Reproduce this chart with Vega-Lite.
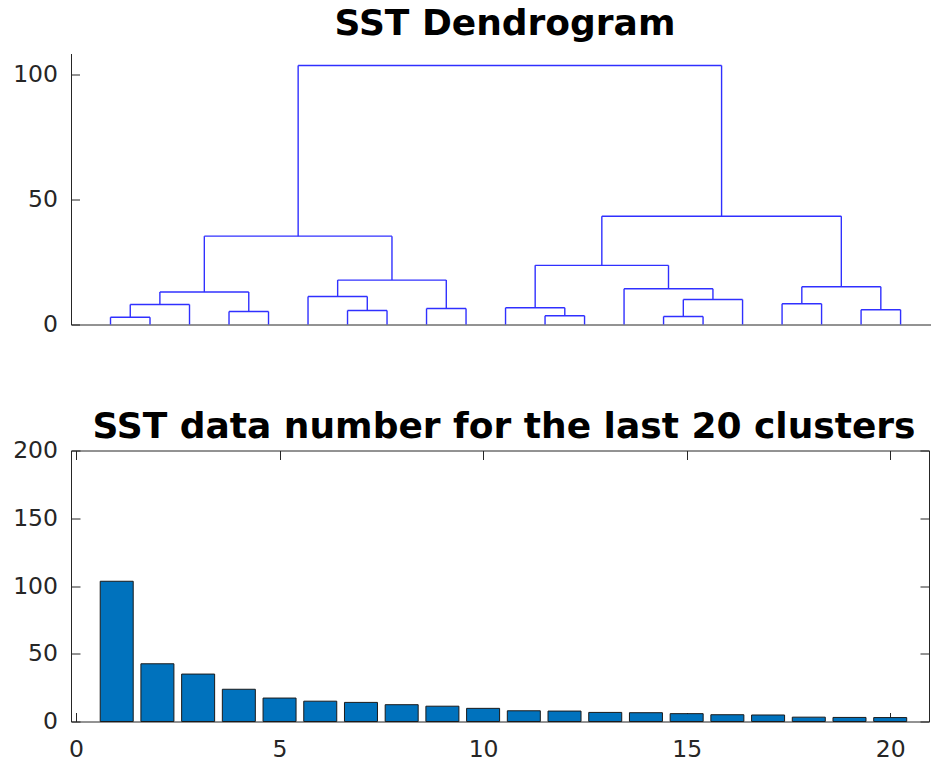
{
  "$schema": "https://vega.github.io/schema/vega-lite/v6.json",
  "padding": {"left": 12, "top": 5.5, "right": 0, "bottom": 0},
  "background": "white",
  "config": {
    "font": "DejaVu Sans",
    "axis": {"labelFont": "DejaVu Sans", "labelFontSize": 23.5, "labelColor": "#262626", "domainColor": "#262626", "tickColor": "#262626", "grid": false, "domainWidth": 1, "tickWidth": 1},
    "title": {"font": "DejaVu Sans", "fontSize": 36, "fontWeight": "bold", "color": "#000000", "anchor": "middle", "baseline": "alphabetic"},
    "view": {"stroke": null}
  },
  "spacing": 72,
  "vconcat": [
    {
      "width": 860,
      "height": 271,
      "title": {"text": "SST Dendrogram", "offset": 10.5, "dx": 4},
      "data": {"values": [
        {"xl": 1, "xr": 2, "hl": 0, "hr": 0, "h": 2.9},
        {"xl": 1.5, "xr": 3, "hl": 2.9, "hr": 0, "h": 8.0},
        {"xl": 4, "xr": 5, "hl": 0, "hr": 0, "h": 5.2},
        {"xl": 2.25, "xr": 4.5, "hl": 8.0, "hr": 5.2, "h": 13.0},
        {"xl": 7, "xr": 8, "hl": 0, "hr": 0, "h": 5.6},
        {"xl": 6, "xr": 7.5, "hl": 0, "hr": 5.6, "h": 11.2},
        {"xl": 9, "xr": 10, "hl": 0, "hr": 0, "h": 6.4},
        {"xl": 6.75, "xr": 9.5, "hl": 11.2, "hr": 6.4, "h": 17.8},
        {"xl": 3.375, "xr": 8.125, "hl": 13.0, "hr": 17.8, "h": 35.4},
        {"xl": 12, "xr": 13, "hl": 0, "hr": 0, "h": 3.5},
        {"xl": 11, "xr": 12.5, "hl": 0, "hr": 3.5, "h": 6.7},
        {"xl": 15, "xr": 16, "hl": 0, "hr": 0, "h": 3.2},
        {"xl": 15.5, "xr": 17, "hl": 3.2, "hr": 0, "h": 10.0},
        {"xl": 14, "xr": 16.25, "hl": 0, "hr": 10.0, "h": 14.3},
        {"xl": 11.75, "xr": 15.125, "hl": 6.7, "hr": 14.3, "h": 23.7},
        {"xl": 18, "xr": 19, "hl": 0, "hr": 0, "h": 8.3},
        {"xl": 20, "xr": 21, "hl": 0, "hr": 0, "h": 5.9},
        {"xl": 18.5, "xr": 20.5, "hl": 8.3, "hr": 5.9, "h": 15.1},
        {"xl": 13.4375, "xr": 19.5, "hl": 23.7, "hr": 15.1, "h": 43.4},
        {"xl": 5.75, "xr": 16.46875, "hl": 35.4, "hr": 43.4, "h": 103.8}
      ]},
      "layer": [
        {
          "mark": {"type": "rule", "color": "#3030ff", "strokeWidth": 1.4},
          "encoding": {
            "x": {"field": "xl", "type": "quantitative", "scale": {"domain": [0, 21.77], "nice": false, "zero": false}, "axis": {"ticks": false, "labels": false, "domain": true, "title": null}},
            "y": {"field": "hl", "type": "quantitative", "scale": {"domain": [0, 108.6], "nice": false}, "axis": {"values": [0, 50, 100], "tickSize": -8.5, "labelPadding": 22, "title": null}},
            "y2": {"field": "h"}
          }
        },
        {
          "mark": {"type": "rule", "color": "#3030ff", "strokeWidth": 1.4},
          "encoding": {
            "x": {"field": "xr", "type": "quantitative", "axis": {"title": null}},
            "y": {"field": "hr", "type": "quantitative", "axis": {"title": null}},
            "y2": {"field": "h"}
          }
        },
        {
          "mark": {"type": "rule", "color": "#3030ff", "strokeWidth": 1.4},
          "encoding": {
            "x": {"field": "xl", "type": "quantitative", "axis": {"title": null}},
            "x2": {"field": "xr"},
            "y": {"field": "h", "type": "quantitative", "axis": {"title": null}}
          }
        }
      ]
    },
    {
      "width": 858,
      "height": 271,
      "title": {"text": "SST data number for the last 20 clusters", "offset": -7, "dx": 4},
      "data": {"values": [
        {"cluster": 1, "count": 103.5},
        {"cluster": 2, "count": 42.6},
        {"cluster": 3, "count": 35.0},
        {"cluster": 4, "count": 23.8},
        {"cluster": 5, "count": 17.3},
        {"cluster": 6, "count": 15.0},
        {"cluster": 7, "count": 14.1},
        {"cluster": 8, "count": 12.4},
        {"cluster": 9, "count": 11.3},
        {"cluster": 10, "count": 9.7},
        {"cluster": 11, "count": 7.9},
        {"cluster": 12, "count": 7.7},
        {"cluster": 13, "count": 6.7},
        {"cluster": 14, "count": 6.5},
        {"cluster": 15, "count": 5.8},
        {"cluster": 16, "count": 5.0},
        {"cluster": 17, "count": 4.8},
        {"cluster": 18, "count": 3.2},
        {"cluster": 19, "count": 3.0},
        {"cluster": 20, "count": 2.9}
      ]},
      "layer": [
        {
          "mark": {"type": "bar", "size": 33, "color": "#0072BD", "stroke": "#1a1a1a", "strokeWidth": 1},
          "encoding": {
            "x": {"field": "cluster", "type": "quantitative", "scale": {"domain": [0, 20.83], "nice": false, "zero": false}, "axis": {"orient": "bottom", "values": [0, 5, 10, 15, 20], "tickSize": -9, "labelPadding": 25, "title": null}},
            "y": {"field": "count", "type": "quantitative", "scale": {"domain": [0, 200], "nice": false}, "axis": {"orient": "left", "values": [0, 50, 100, 150, 200], "tickSize": -9, "labelPadding": 22.5, "title": null}}
          }
        },
        {
          "mark": {"type": "point", "opacity": 0},
          "encoding": {
            "x": {"field": "cluster", "type": "quantitative", "axis": {"orient": "top", "values": [0, 5, 10, 15, 20], "tickSize": -9, "labels": false, "title": null}},
            "y": {"field": "count", "type": "quantitative", "axis": {"orient": "right", "values": [0, 50, 100, 150, 200], "tickSize": -9, "labels": false, "title": null}}
          }
        }
      ],
      "resolve": {"axis": {"x": "independent", "y": "independent"}}
    }
  ]
}
